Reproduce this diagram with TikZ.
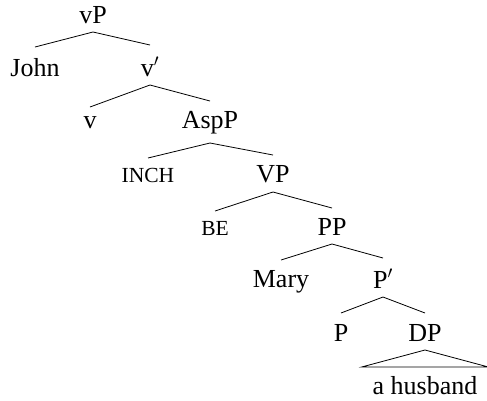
\documentclass[tikz,border=0pt]{standalone}
\usepackage{fontspec}
\setmainfont{Liberation Serif}
\begin{document}
\begin{tikzpicture}[x=1pt,y=-1pt,
  tn/.style={anchor=base,inner sep=0pt,outer sep=0pt,font=\fontsize{26}{30}\selectfont},
  sc/.style={tn,font=\fontsize{21.5}{25}\selectfont},
  br/.style={line width=0.8pt,black}]
\useasboundingbox (0,0) rectangle (487,400);
\node[tn,text height=17pt,text depth=9pt] (vP) at (93,23) {vP};
\node[tn,text height=29pt] (John) at (35,76) {John};
\node[tn,text height=31pt,text depth=9pt] (vbar) at (150,76) {v$'$};
\node[tn,text height=21pt] (v) at (90,128) {v};
\node[tn,text height=27pt,text depth=15pt] (AspP) at (210,128) {AspP};
\node[sc,text height=24pt] (INCH) at (148,182) {INCH};
\node[tn,text height=27pt,text depth=10pt] (VP) at (273,182) {VP};
\node[sc,text height=24pt] (BE) at (215,235) {BE};
\node[tn,text height=27pt,text depth=9pt] (PP) at (332,235) {PP};
\node[tn,text height=27pt] (Mary) at (281,287) {Mary};
\node[tn,text height=30pt,text depth=9pt] (Pbar) at (383,288) {P$'$};
\node[tn,text height=28pt] (P) at (341,341) {P};
\node[tn,text height=28pt,text depth=9pt] (DP) at (425,341) {DP};
\node[tn,text height=27pt,inner xsep=11pt] (ah) at (425,394) {a husband};
\draw[br] (John.north) -- (vP.south) -- (vbar.north);
\draw[br] (v.north) -- (vbar.south) -- (AspP.north);
\draw[br] (INCH.north) -- (AspP.south) -- (VP.north);
\draw[br] (BE.north) -- (VP.south) -- (PP.north);
\draw[br] (Mary.north) -- (PP.south) -- (Pbar.north);
\draw[br] (P.north) -- (Pbar.south) -- (DP.north);
\draw[br] (ah.north west) -- (DP.south) -- (ah.north east) -- cycle;
\end{tikzpicture}
\end{document}
